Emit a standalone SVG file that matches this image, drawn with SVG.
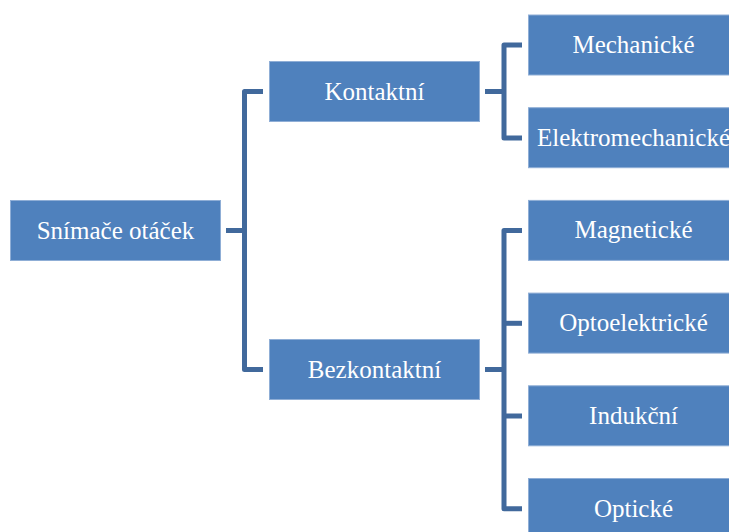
<svg xmlns="http://www.w3.org/2000/svg" width="729" height="532" viewBox="0 0 729 532">
<style>
.box{fill:#4F81BD;stroke:#8FAEd6;stroke-width:1}
.lbl{font-family:"Liberation Serif",serif;font-size:25px;fill:#ffffff;text-anchor:middle}
.con{fill:none;stroke:#41699C;stroke-width:5;stroke-linejoin:round;stroke-linecap:butt}
</style>
<rect width="729" height="532" fill="#ffffff"/>
<g id="connectors">
<path class="con" d="M226,230.5 H244.5"/>
<path class="con" d="M263,91.5 H244.5 V369.5 H263"/>
<path class="con" d="M485,91.5 H504"/>
<path class="con" d="M522,45 H504 V137.9 H522"/>
<path class="con" d="M485,369.5 H504"/>
<path class="con" d="M522,230.6 H504 V508.7 H522"/>
<path class="con" d="M504,323.3 H522"/>
<path class="con" d="M504,416 H522"/>
</g>
<g id="root"><rect class="box" x="10.5" y="200.5" width="210" height="60"/><text class="lbl" x="115.5" y="238.5">Snímače otáček</text></g>
<g id="kontaktni"><rect class="box" x="269.5" y="61.5" width="210" height="60"/><text class="lbl" x="374.5" y="99.5">Kontaktní</text></g>
<g id="bezkontaktni"><rect class="box" x="269.5" y="339.5" width="210" height="60"/><text class="lbl" x="374.5" y="377.5">Bezkontaktní</text></g>
<g id="mechanicke"><rect class="box" x="528.5" y="15" width="210" height="60"/><text class="lbl" x="633.5" y="53">Mechanické</text></g>
<g id="elektromechanicke"><rect class="box" x="528.5" y="107.7" width="210" height="60"/><text class="lbl" x="633.5" y="145.7">Elektromechanické</text></g>
<g id="magneticke"><rect class="box" x="528.5" y="200.4" width="210" height="60"/><text class="lbl" x="633.5" y="238.4">Magnetické</text></g>
<g id="optoelektricke"><rect class="box" x="528.5" y="293.1" width="210" height="60"/><text class="lbl" x="633.5" y="331.1">Optoelektrické</text></g>
<g id="indukcni"><rect class="box" x="528.5" y="385.8" width="210" height="60"/><text class="lbl" x="633.5" y="423.8">Indukční</text></g>
<g id="opticke"><rect class="box" x="528.5" y="478.5" width="210" height="60"/><text class="lbl" x="633.5" y="516.5">Optické</text></g>
</svg>
